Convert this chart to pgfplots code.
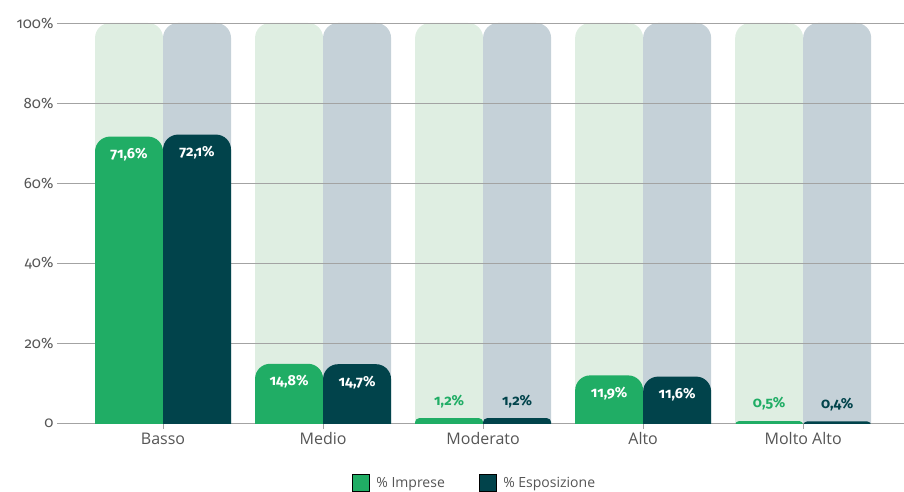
\documentclass[border=0pt]{standalone}
\usepackage{fontspec}
\setmainfont{Open Sans}
\newfontfamily\numfont{Fira Sans}[Numbers=OldStyle]
\usepackage{pgfplots}
\pgfplotsset{compat=1.18}
\definecolor{bggreen}{HTML}{DFEEE2}
\definecolor{bggray}{HTML}{C5D1D8}
\definecolor{cgreen}{HTML}{20AD65}
\definecolor{cdark}{HTML}{01434B}
\definecolor{gridgray}{HTML}{A3A3A3}
\definecolor{txt}{HTML}{555555}
\begin{document}
\begin{tikzpicture}
\begin{axis}[
  at={(0pt,-20pt)}, anchor=south west,
  scale only axis, width=847pt, height=420pt,
  xmin=-0.6625, xmax=4.63, ymin=0, ymax=105,
  ytick={5,25,45,65,85,105},
  yticklabels={0,20\%,40\%,60\%,80\%,100\%},
  xtick={0,1,2,3,4},
  xticklabels={Basso,Medio,Moderato,Alto,Molto Alto},
  axis line style={draw=none},
  ytick style={draw=none},
  xtick style={draw=none},
  yticklabel style={text=txt, font=\numfont\fontsize{15}{17}\selectfont},
  xticklabel style={text=txt, font=\fontsize{16}{18}\selectfont, yshift=18pt},
  /pgf/number format/assume math mode=true,
  y filter/.code={\pgfmathparse{#1+5}},
  ybar, bar width=68pt,
  legend image code/.code={\fill[#1] (0pt,-8.5pt) rectangle (17pt,8.5pt);},
  legend style={at={(axis description cs:0.493,0)}, anchor=center, yshift=-40pt,
    draw=none, fill=none, legend columns=2, font=\fontsize{14}{16}\selectfont,
    text=txt, /tikz/every odd column/.style={column sep=5pt},
    /tikz/every even column/.style={column sep=32pt}},
]
% x tick marks below the zero line
\pgfplotsinvokeforeach{0,1,2,3,4}{
  \draw[gridgray, line width=0.8pt] (axis cs:#1,5) -- ++(0pt,-6pt);
}
\clip (axis cs:-0.6625,5) rectangle (axis cs:4.63,106);
% background bars
\addplot[bar shift=-34pt, fill=bggreen, draw=none, rounded corners=15pt, forget plot]
  coordinates {(0,100) (1,100) (2,100) (3,100) (4,100)};
\addplot[bar shift=34pt, fill=bggray, draw=none, rounded corners=15pt, forget plot]
  coordinates {(0,100) (1,100) (2,100) (3,100) (4,100)};
% grid lines over the background bars
\pgfplotsinvokeforeach{5,25,45,65,85,105}{
  \draw[gridgray, line width=0.8pt] (axis cs:-0.6625,#1) -- (axis cs:4.63,#1);
}
% foreground bars, labels inside
\addplot[bar shift=-34pt, fill=cgreen, draw=none, rounded corners=15pt, forget plot,
  nodes near coords, point meta=explicit symbolic,
  nodes near coords style={anchor=center, yshift=-18pt, text=white, font=\numfont\bfseries\fontsize{14.5}{16}\selectfont}]
  coordinates {(0,71.6) [71,6\%] (1,14.8) [14,8\%] (3,11.9) [11,9\%]};
\addplot[bar shift=34pt, fill=cdark, draw=none, rounded corners=15pt, forget plot,
  nodes near coords, point meta=explicit symbolic,
  nodes near coords style={anchor=center, yshift=-18pt, text=white, font=\numfont\bfseries\fontsize{14.5}{16}\selectfont}]
  coordinates {(0,72.1) [72,1\%] (1,14.7) [14,7\%] (3,11.6) [11,6\%]};
% foreground bars, labels above
\addplot[bar shift=-34pt, fill=cgreen, draw=none, rounded corners=4pt, forget plot,
  nodes near coords, point meta=explicit symbolic,
  nodes near coords style={anchor=center, yshift=17pt, text=cgreen, font=\numfont\bfseries\fontsize{14.5}{16}\selectfont}]
  coordinates {(2,1.2) [1,2\%] (4,0.5) [0,5\%]};
\addplot[bar shift=34pt, fill=cdark, draw=none, rounded corners=4pt, forget plot,
  nodes near coords, point meta=explicit symbolic,
  nodes near coords style={anchor=center, yshift=17pt, text=cdark, font=\numfont\bfseries\fontsize{14.5}{16}\selectfont}]
  coordinates {(2,1.2) [1,2\%] (4,0.4) [0,4\%]};
\addlegendimage{fill=cgreen}
\addlegendentry{\% Imprese}
\addlegendimage{fill=cdark}
\addlegendentry{\% Esposizione}
\end{axis}
\pgfresetboundingbox
\useasboundingbox (-57pt,-69pt) rectangle (847pt,423pt);
\end{tikzpicture}
\end{document}
